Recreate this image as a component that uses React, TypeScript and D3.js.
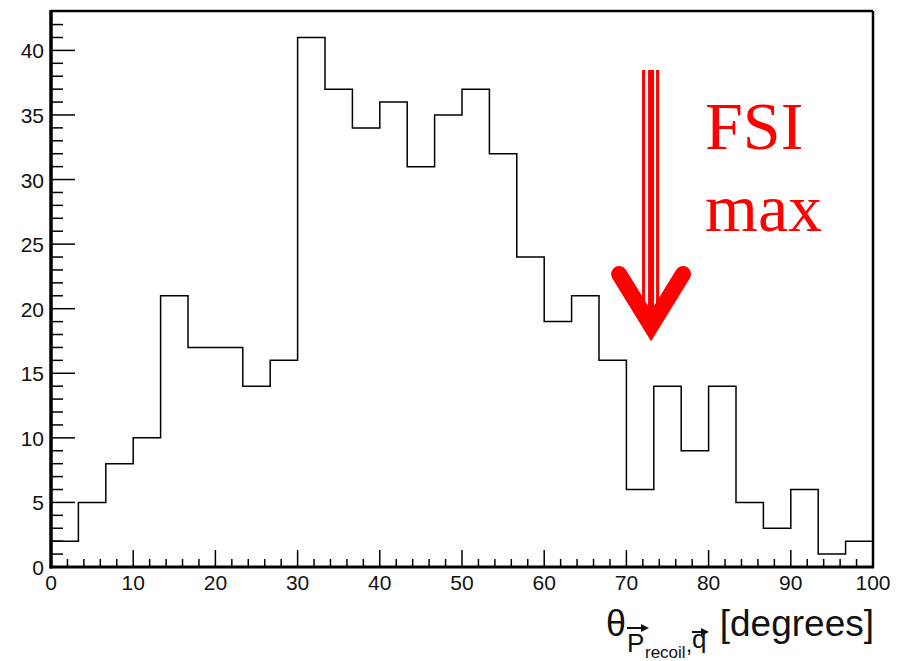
import React from "react";
import * as d3 from "d3";

const counts = [2, 5, 8, 10, 21, 17, 17, 14, 16, 41, 37, 34, 36, 31, 35, 37, 32, 24, 19, 21, 16, 6, 14, 9, 14, 5, 3, 6, 1, 2];
const xMin = 0;
const xMax = 100;
const yMax = 43.05;
const xMajorTicks = [0, 10, 20, 30, 40, 50, 60, 70, 80, 90, 100];
const yMajorTicks = [0, 5, 10, 15, 20, 25, 30, 35, 40];
const arrowX = 73;
const annotationLines = ["FSI", "max"];

const W = 907;
const H = 661;
const L = 51;
const R = 873;
const T = 11;
const B = 567;

export default function App() {
  const x = d3.scaleLinear().domain([xMin, xMax]).range([L, R]);
  const y = d3.scaleLinear().domain([0, yMax]).range([B, T]);
  const binW = (xMax - xMin) / counts.length;

  const pts: [number, number][] = [[xMin, 0]];
  counts.forEach((c, i) => {
    pts.push([xMin + i * binW, c]);
    pts.push([xMin + (i + 1) * binW, c]);
  });
  pts.push([xMax, 0]);
  const line = d3.line<[number, number]>().x((d) => x(d[0])).y((d) => y(d[1]));

  const xMinor = d3.range(0, 101, 2).filter((v) => v % 10 !== 0);
  const yMinor = d3.range(0, 43, 1).filter((v) => v % 5 !== 0);

  const ax = x(arrowX);
  const shaftTop = 70;
  const vertexY = 326;

  const font = "'Liberation Sans', Arial, Helvetica, sans-serif";

  return (
    <svg width={W} height={H} style={{ position: "fixed", left: 0, top: 0, background: "#fff" }}>
      <rect x={0} y={0} width={W} height={H} fill="#fff" />
      {/* histogram */}
      <path d={line(pts) || ""} fill="none" stroke="#000" strokeWidth={1.5} />
      {/* frame */}
      <line x1={L} y1={T} x2={R} y2={T} stroke="#000" strokeWidth={2.5} />
      <line x1={R} y1={T} x2={R} y2={B} stroke="#000" strokeWidth={2.5} />
      <line x1={L} y1={T - 1} x2={L} y2={B + 1.5} stroke="#000" strokeWidth={3.5} />
      <line x1={L - 1.5} y1={B} x2={R + 1} y2={B} stroke="#000" strokeWidth={3} />
      {/* y ticks */}
      {yMajorTicks.map((v) => (
        <g key={"ym" + v}>
          <line x1={L} x2={L + 24} y1={y(v)} y2={y(v)} stroke="#000" strokeWidth={1.5} />
          <text x={L - 7} y={y(v) + 8} textAnchor="end" fontFamily={font} fontSize={21} fill="#111">
            {v}
          </text>
        </g>
      ))}
      {yMinor.map((v) => (
        <line key={"yn" + v} x1={L} x2={L + 12} y1={y(v)} y2={y(v)} stroke="#000" strokeWidth={1.5} />
      ))}
      {/* x ticks */}
      {xMajorTicks.map((v) => (
        <g key={"xm" + v}>
          <line x1={x(v)} x2={x(v)} y1={B} y2={B - 17} stroke="#000" strokeWidth={1.5} />
          <text x={x(v)} y={590} textAnchor="middle" fontFamily={font} fontSize={21} fill="#111">
            {v}
          </text>
        </g>
      ))}
      {xMinor.map((v) => (
        <line key={"xn" + v} x1={x(v)} x2={x(v)} y1={B} y2={B - 8} stroke="#000" strokeWidth={1.5} />
      ))}
      {/* x axis title */}
      <g fontFamily={font} fill="#111">
        <text x={606} y={636} fontSize={36}>θ</text>
        <text x={627} y={652} fontSize={26}>P</text>
        <line x1={627} x2={643} y1={628} y2={628} stroke="#111" strokeWidth={2} />
        <path d="M641,624 L649,628 L641,632 Z" fill="#111" />
        <text x={645} y={658} fontSize={17}>recoil</text>
        <text x={686} y={652} fontSize={22}>,</text>
        <text x={692} y={648} fontSize={26}>q</text>
        <line x1={692} x2={703} y1={632} y2={632} stroke="#111" strokeWidth={2} />
        <path d="M701,628 L709,632 L701,636 Z" fill="#111" />
        <text x={874} y={636} fontSize={37} textAnchor="end">[degrees]</text>
      </g>
      {/* red arrow annotation */}
      <g>
        <line x1={ax - 7.5} x2={ax - 7.5} y1={shaftTop} y2={vertexY - 15} stroke="#ff0000" strokeWidth={3} />
        <line x1={ax} x2={ax} y1={shaftTop} y2={vertexY - 10} stroke="#ff0000" strokeWidth={6} />
        <line x1={ax + 6.5} x2={ax + 6.5} y1={shaftTop} y2={vertexY - 15} stroke="#ff0000" strokeWidth={3} />
        <path
          d={`M${ax - 32},274 L${ax},${vertexY} L${ax + 32},274`}
          fill="none"
          stroke="#ff0000"
          strokeWidth={16}
          strokeLinecap="round"
          strokeLinejoin="miter"
          strokeMiterlimit={10}
        />
      </g>
      <g fontFamily="'Liberation Serif', 'Times New Roman', serif" fill="#ff0000" fontSize={68}>
        <text x={705} y={149}>{annotationLines[0]}</text>
        <text x={705} y={231}>{annotationLines[1]}</text>
      </g>
    </svg>
  );
}
